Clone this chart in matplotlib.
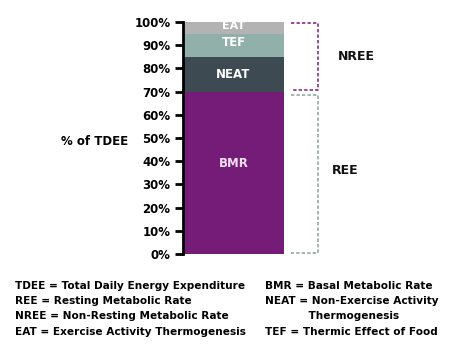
import matplotlib.pyplot as plt

# stacked shares of total daily energy expenditure
segments = ['BMR', 'NEAT', 'TEF', 'EAT']
shares = [70, 15, 10, 5]
colors = ['#751c78', '#3e4a52', '#91b0aa', '#b3b3b3']
label_colors = ['#f4dff2', 'white', 'white', 'white']
label_y = [39, 77.5, 91, 98.2]

yticks = [0, 10, 20, 30, 40, 50, 60, 70, 80, 90, 100]
ytick_labels = ['%d%%' % v for v in yticks]

# groups shown with brackets (start, end in %)
groups = ['NREE', 'REE']
group_ranges = [(70.5, 99.5), (0.3, 68.5)]
group_colors = ['#8a2a86', '#8fa9a3']
group_label_y = [85, 36]
group_label_x = [1.72, 1.61]

legend_left = ['TDEE = Total Daily Energy Expenditure',
               'REE = Resting Metabolic Rate',
               'NREE = Non-Resting Metabolic Rate',
               'EAT = Exercise Activity Thermogenesis']
legend_right = ['BMR = Basal Metabolic Rate',
                'NEAT = Non-Exercise Activity',
                '            Thermogenesis',
                'TEF = Thermic Effect of Food']

fig = plt.figure(figsize=(4.74, 3.61), dpi=100)
ax = fig.add_axes([183 / 474, 1 - 254 / 361, 277 / 474, 232 / 361])

bottom = 0
for name, val, col, lc, ty in zip(segments, shares, colors, label_colors, label_y):
    ax.bar(0, val, width=1, bottom=bottom, align='edge', color=col)
    ax.text(0.5, ty, name, ha='center', va='center', color=lc,
            fontsize=8 if name == 'EAT' else 8.5, fontweight='bold')
    bottom += val

for g, (lo, hi), col, gy, gx in zip(groups, group_ranges, group_colors,
                                    group_label_y, group_label_x):
    ax.plot([1.07, 1.34, 1.34, 1.07], [hi, hi, lo, lo], color=col,
            lw=1.2, ls=(0, (2, 1.3)), clip_on=False)
    ax.text(gx, gy, g, ha='center', va='center', fontsize=9,
            fontweight='bold', color='#111111')

ax.set_xlim(0, 277 / 101)
ax.set_ylim(0, 100)
ax.set_yticks(yticks)
ax.set_yticklabels(ytick_labels, fontsize=8.5, fontweight='bold')
ax.set_xticks([])
for s in ['top', 'right', 'bottom']:
    ax.spines[s].set_visible(False)
ax.spines['left'].set_linewidth(2)
ax.tick_params(axis='y', length=6, width=2, pad=3)

fig.text(95 / 474, 1 - 141 / 361, '% of TDEE', ha='center', va='center',
         fontsize=8.5, fontweight='bold')

line_y = [286, 301, 316, 332]
for txt, y in zip(legend_left, line_y):
    fig.text(15 / 474, 1 - y / 361, txt, ha='left', va='center',
             fontsize=7.6, fontweight='bold')
for txt, y in zip(legend_right, line_y):
    fig.text(265 / 474, 1 - y / 361, txt, ha='left', va='center',
             fontsize=7.6, fontweight='bold')

fig.savefig('out.png', dpi=100)
